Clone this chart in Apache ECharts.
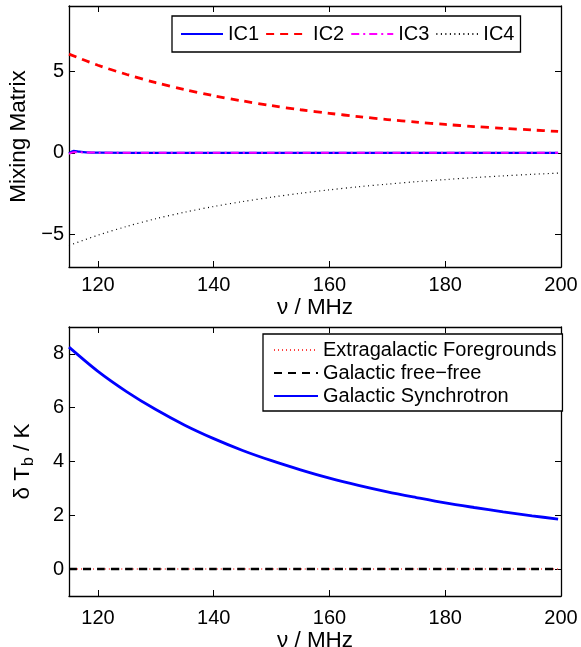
<!DOCTYPE html>
<html>
<head>
<meta charset="utf-8">
<script src="https://cdn.jsdelivr.net/npm/echarts@6/dist/echarts.min.js"></script>
<style>
html,body{margin:0;padding:0;background:#fff;}
#c{width:581px;height:647px;}
</style>
</head>
<body>
<div id="c"></div>
<script>
// ---- data ----
const freq = [115,120,125,130,135,140,145,150,155,160,165,170,175,180,185,190,195,199.5];
const ic2 = [6.05,5.37,4.80,4.30,3.88,3.50,3.18,2.89,2.64,2.42,2.22,2.04,1.88,1.74,1.61,1.50,1.40,1.31];
const ic4 = [-5.68,-5.05,-4.51,-4.04,-3.64,-3.29,-2.99,-2.72,-2.48,-2.27,-2.08,-1.92,-1.77,-1.64,-1.52,-1.41,-1.32,-1.24];
const nearZeroFreq = [115,115.8,116.8,118,120,130,140,150,160,170,180,190,199.5];
const ic1 = [-0.03,0.12,0.07,0.03,0.01,0,0,0,0,0,0,0,0];
const ic3 = [-0.06,0.03,0.03,0.02,0.01,0,0,0,0,0,0,0,0];
const synchrotron = [8.25,7.35,6.59,5.93,5.35,4.85,4.41,4.03,3.69,3.38,3.11,2.87,2.66,2.46,2.29,2.13,1.98,1.86];
const freeFree = [0,0,0,0,0,0,0,0,0,0,0,0,0,0,0,0,0,0];
const extragalactic = [0,0,0,0,0,0,0,0,0,0,0,0,0,0,0,0,0,0];
const xTicks = [120,140,160,180,200];
const yTicksTop = [-5,0,5];
const yTicksBottom = [0,2,4,6,8];
const namesTop = ['IC1','IC2','IC3','IC4'];
const namesBottom = ['Extragalactic Foregrounds','Galactic free\u2212free','Galactic Synchrotron'];

const pairs = (xs, ys) => xs.map((x, i) => [x, ys[i]]);
const FONT = 'Liberation Sans, Arial, Helvetica, sans-serif';
const minus = v => String(v).replace('-', '\u2212');

function xAxisDef(grid, pos, show, name, nameGap, margin) {
  return {
    type: 'value', gridIndex: grid, position: pos, min: 115, max: 200,
    name: name, nameLocation: 'middle', nameGap: nameGap,
    nameTextStyle: {fontSize: 22.5, fontFamily: FONT, color: '#000'},
    axisLine: {show: true, onZero: false, lineStyle: {color: '#000', width: 1.3}},
    axisTick: {show: true, inside: true, length: 6, customValues: xTicks, lineStyle: {color: '#000'}},
    axisLabel: {show: show, customValues: xTicks, fontSize: 20, fontFamily: FONT, color: '#000', margin: margin},
    splitLine: {show: false}
  };
}
function yAxisDef(grid, pos, show, min, max, ticks, name, nameGap, rich) {
  const a = {
    type: 'value', gridIndex: grid, position: pos, min: min, max: max,
    axisLine: {show: true, onZero: false, lineStyle: {color: '#000', width: 1.3}},
    axisTick: {show: true, inside: true, length: 6, customValues: ticks, lineStyle: {color: '#000'}},
    axisLabel: {show: show, customValues: ticks, fontSize: 20, fontFamily: FONT, color: '#000', margin: 5, formatter: minus},
    splitLine: {show: false}
  };
  if (name) {
    a.name = name; a.nameLocation = 'middle'; a.nameGap = nameGap; a.nameRotate = 90;
    a.nameTextStyle = {fontSize: 22.5, fontFamily: FONT, color: '#000', rich: rich};
  }
  return a;
}
function line(name, x, y, xi, yi, color, width, type, z) {
  return {
    name: name, type: 'line', xAxisIndex: xi, yAxisIndex: yi, data: pairs(x, y),
    symbol: 'none', smooth: 0.3, z: z,
    lineStyle: {color: color, width: width, type: type},
    itemStyle: {color: color}
  };
}

const chart = echarts.init(document.getElementById('c'), null, {renderer: 'canvas'});
chart.setOption({
  animation: false,
  backgroundColor: '#fff',
  grid: [
    {left: 69, top: 6, right: 20, height: 261, outerBoundsMode: 'none'},
    {left: 69, top: 327, right: 20, height: 269, outerBoundsMode: 'none'}
  ],
  xAxis: [
    xAxisDef(0, 'bottom', true, '\u03bd / MHz', 21, 8),
    xAxisDef(0, 'top', false, '', 0, 8),
    xAxisDef(1, 'bottom', true, '\u03bd / MHz', 29, 12),
    xAxisDef(1, 'top', false, '', 0, 8)
  ],
  yAxis: [
    yAxisDef(0, 'left', true, -7, 9, yTicksTop, 'Mixing Matrix', 35),
    yAxisDef(0, 'right', false, -7, 9, yTicksTop),
    yAxisDef(1, 'left', true, -1, 9, yTicksBottom, '{a|\u03b4 T}{s|b}{a| / K}', 32,
      {a: {fontSize: 22.5, fontFamily: FONT, color: '#000'},
       s: {fontSize: 16, fontFamily: FONT, color: '#000', padding: [13, 0, 0, 1]}}),
    yAxisDef(1, 'right', false, -1, 9, yTicksBottom)
  ],
  legend: [
    {
      data: namesTop, orient: 'horizontal', left: 172, top: 16,
      itemWidth: 42, itemHeight: 14, itemGap: 6, padding: [8, 6, 8, 8],
      borderColor: '#000', borderWidth: 1.3, backgroundColor: '#fff',
      itemStyle: {opacity: 0},
      textStyle: {fontSize: 20, fontFamily: FONT, color: '#000'}
    },
    {
      data: namesBottom, orient: 'vertical', left: 263, top: 334,
      itemWidth: 44, itemHeight: 14, itemGap: 3, padding: [6, 6, 5, 10],
      borderColor: '#000', borderWidth: 1.3, backgroundColor: '#fff',
      itemStyle: {opacity: 0},
      textStyle: {fontSize: 20, fontFamily: FONT, color: '#000'}
    }
  ],
  series: [
    line('IC1', nearZeroFreq, ic1, 0, 0, '#0000ff', 2.2, 'solid', 3),
    line('IC2', freq, ic2, 0, 0, '#ff0000', 2.8, [8, 6], 3),
    line('IC3', nearZeroFreq, ic3, 0, 0, '#ff00ff', 2, [8, 4, 2, 4], 4),
    line('IC4', freq, ic4, 0, 0, '#000000', 1.2, [1, 3.5], 3),
    line(namesBottom[0], freq, extragalactic, 2, 2, '#ff4040', 1.5, [1, 3], 3),
    line(namesBottom[1], freq, freeFree, 2, 2, '#000000', 2.5, [8, 6], 4),
    line(namesBottom[2], freq, synchrotron, 2, 2, '#0000ff', 2.8, 'solid', 5)
  ]
});
</script>
</body>
</html>
